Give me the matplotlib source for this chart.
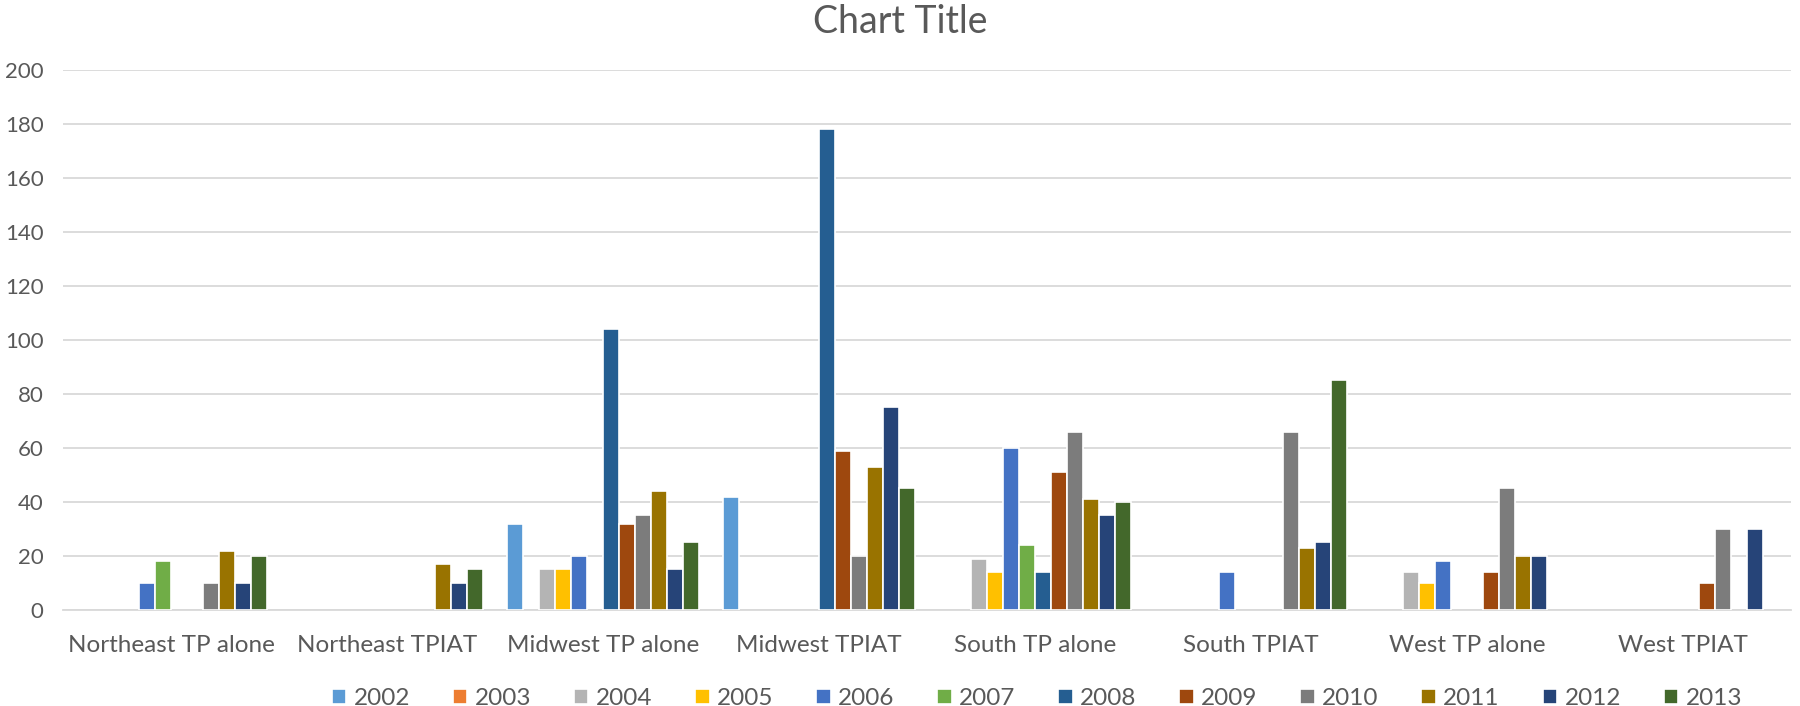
import numpy as np
import matplotlib.pyplot as plt

plt.rcParams['font.family'] = ['Lato', 'DejaVu Sans']

categories = ['Northeast TP alone', 'Northeast TPIAT', 'Midwest TP alone', 'Midwest TPIAT',
              'South TP alone', 'South TPIAT', 'West TP alone', 'West TPIAT']
years = ['2002', '2003', '2004', '2005', '2006', '2007', '2008', '2009', '2010', '2011', '2012', '2013']

# values per year, one entry per category (0 = no bar)
y2002 = [0, 0, 32, 42, 0, 0, 0, 0]
y2003 = [0, 0, 0, 0, 0, 0, 0, 0]
y2004 = [0, 0, 15, 0, 19, 0, 14, 0]
y2005 = [0, 0, 15, 0, 14, 0, 10, 0]
y2006 = [10, 0, 20, 0, 60, 14, 18, 0]
y2007 = [18, 0, 0, 0, 24, 0, 0, 0]
y2008 = [0, 0, 104, 178, 14, 0, 0, 0]
y2009 = [0, 0, 32, 59, 51, 0, 14, 10]
y2010 = [10, 0, 35, 20, 66, 66, 45, 30]
y2011 = [22, 17, 44, 53, 41, 23, 20, 0]
y2012 = [10, 10, 15, 75, 35, 25, 20, 30]
y2013 = [20, 15, 25, 45, 40, 85, 0, 0]
series = [y2002, y2003, y2004, y2005, y2006, y2007, y2008, y2009, y2010, y2011, y2012, y2013]

colors = ['#5B9BD5', '#ED7D31', '#B4B4B4', '#FFC000', '#4472C4', '#70AD47',
          '#255E91', '#9E480E', '#7C7C7C', '#997300', '#264478', '#43682B']

txt = '#595959'

fig = plt.figure(figsize=(18, 7.06), dpi=100)
ax = fig.add_axes([0.035, 0.136, 0.96, 0.765])

x = np.arange(len(categories))
w = 0.074
for i, vals in enumerate(series):
    vals = np.array(vals, dtype=float)
    vals[vals == 0] = np.nan  # empty cells draw nothing
    ax.bar(x + (i - 5.5) * w, vals, width=w, color=colors[i], edgecolor='white',
           linewidth=1.2, label=years[i], zorder=3)

ax.set_xlim(-0.5, len(categories) - 0.5)
ax.set_ylim(0, 200)
ax.set_yticks(np.arange(0, 201, 20))
ax.set_xticks(x)
ax.set_xticklabels(categories)
ax.grid(axis='y', color='#D9D9D9', linewidth=1.3, zorder=0)
for s in ['top', 'right', 'left']:
    ax.spines[s].set_visible(False)
ax.spines['bottom'].set_color('#D9D9D9')
ax.spines['bottom'].set_linewidth(1.3)
ax.tick_params(axis='both', length=0, labelcolor=txt)
ax.tick_params(axis='x', pad=18, labelsize=17.5)
ax.tick_params(axis='y', pad=14, labelsize=16)

fig.suptitle('Chart Title', y=0.995, fontsize=27, color=txt)

fig.legend(loc='lower center', bbox_to_anchor=(0.576, -0.035), ncol=12, frameon=False,
           fontsize=17.5, labelcolor=txt, handlelength=0.6, handleheight=0.6,
           handletextpad=0.3, columnspacing=1.76)

fig.savefig('out.png')
